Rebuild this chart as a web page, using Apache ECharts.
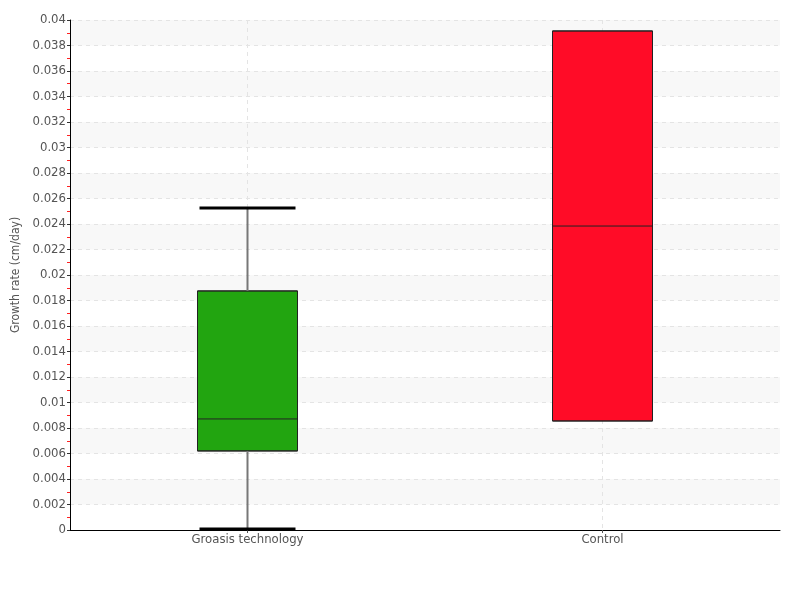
<!DOCTYPE html>
<html>
<head>
<meta charset="utf-8">
<script src="https://cdn.jsdelivr.net/npm/echarts@6/dist/echarts.min.js"></script>
<style>html,body{margin:0;padding:0;background:#fff}#c{width:800px;height:600px}</style>
</head>
<body>
<div id="c"></div>
<script>
var categories = ['Groasis technology', 'Control'];
var mins    = [0.0000, 0.00855];
var q1s     = [0.0062, 0.00855];
var medians = [0.00871, 0.02384];
var q3s     = [0.01875, 0.03914];
var maxs    = [0.02525, 0.03914];
var colors  = ['#22a510', '#ff0c27'];
var yTicks = { min: 0, max: 0.04, interval: 0.002 };

var FONT = '"DejaVu Sans Condensed", "Liberation Sans Narrow", "Roboto", sans-serif';

var boxData = categories.map(function (c, i) {
  return { value: [q1s[i], q1s[i], medians[i], q3s[i], q3s[i]], itemStyle: { color: colors[i] } };
});
var whiskerData = categories.map(function (c, i) {
  return [i, mins[i], q1s[i], q3s[i], maxs[i]];
});

var chart = echarts.init(document.getElementById('c'));
chart.setOption({
  animation: false,
  grid: { left: 70, right: 20, top: 20, bottom: 70 },
  xAxis: {
    type: 'category',
    data: categories,
    axisLine: { lineStyle: { color: '#000', width: 1 } },
    axisTick: { show: true, alignWithLabel: true, length: 3, lineStyle: { color: '#555' } },
    axisLabel: { color: '#555', fontFamily: FONT, fontSize: 13, margin: 3 },
    splitLine: { show: true, alignWithLabel: true, lineStyle: { color: '#e4e4e4', type: [4, 4] } }
  },
  yAxis: {
    type: 'value',
    min: yTicks.min, max: yTicks.max, interval: yTicks.interval,
    name: 'Growth rate (cm/day)',
    nameLocation: 'middle',
    nameGap: 42,
    nameTextStyle: { color: '#555', fontFamily: FONT, fontSize: 12 },
    axisLine: { show: true, lineStyle: { color: '#000', width: 1 } },
    axisTick: { show: true, length: 3, lineStyle: { color: '#333' } },
    minorTick: { show: true, splitNumber: 2, length: 3, lineStyle: { color: '#ff2020', width: 1 } },
    axisLabel: { color: '#555', fontFamily: FONT, fontSize: 13, margin: 4 },
    splitLine: { show: true, lineStyle: { color: '#e4e4e4', type: [4, 4] } },
    splitArea: { show: true, areaStyle: { color: ['rgba(255,255,255,0)', '#f8f8f8'] } }
  },
  series: [
    {
      type: 'boxplot',
      data: boxData,
      boxWidth: [100, 100],
      itemStyle: { borderColor: '#222', borderWidth: 1 },
      z: 2
    },
    {
      type: 'custom',
      data: whiskerData,
      z: 3,
      renderItem: function (params, api) {
        var x = api.value(0);
        var lo = api.coord([x, api.value(1)]);
        var b1 = api.coord([x, api.value(2)]);
        var b3 = api.coord([x, api.value(3)]);
        var hi = api.coord([x, api.value(4)]);
        var half = 48;
        var children = [];
        if (Math.abs(lo[1] - b1[1]) > 0.5) {
          children.push({ type: 'line', shape: { x1: lo[0], y1: lo[1], x2: b1[0], y2: b1[1] }, style: { stroke: '#777', lineWidth: 2 } });
          children.push({ type: 'line', shape: { x1: lo[0] - half, y1: lo[1] - 1, x2: lo[0] + half, y2: lo[1] - 1 }, style: { stroke: '#000', lineWidth: 3 } });
        }
        if (Math.abs(hi[1] - b3[1]) > 0.5) {
          children.push({ type: 'line', shape: { x1: hi[0], y1: hi[1], x2: b3[0], y2: b3[1] }, style: { stroke: '#777', lineWidth: 2 } });
          children.push({ type: 'line', shape: { x1: hi[0] - half, y1: hi[1], x2: hi[0] + half, y2: hi[1] }, style: { stroke: '#000', lineWidth: 3 } });
        }
        return { type: 'group', children: children };
      }
    }
  ]
});
</script>
</body>
</html>
